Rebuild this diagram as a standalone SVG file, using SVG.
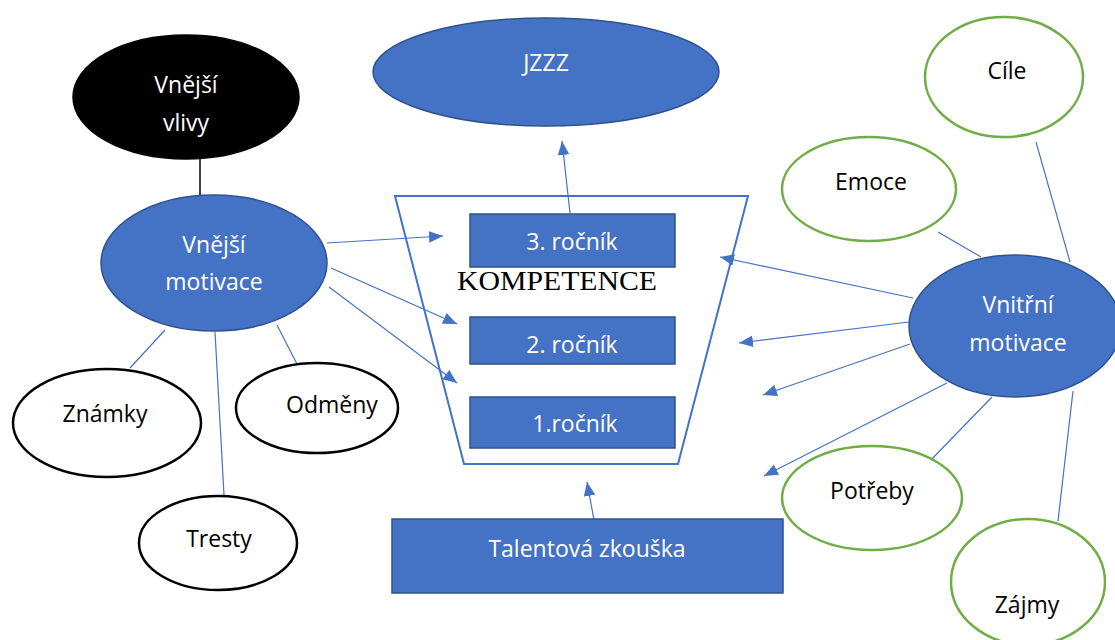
<svg xmlns="http://www.w3.org/2000/svg" width="1115" height="640" viewBox="0 0 1115 640">
<style>
.blue{fill:#4472C4;stroke:#2F528F;stroke-width:1.5}
.black{fill:#000;stroke:#000;stroke-width:1.5}
.wb{fill:#fff;stroke:#000;stroke-width:2.5}
.wg{fill:#fff;stroke:#70AD47;stroke-width:2.5}
.box{fill:#4472C4;stroke:#2F528F;stroke-width:1.5}
.t{font-family:"Open Sans","Liberation Sans",sans-serif;font-size:23px;text-anchor:middle;dominant-baseline:central}
.tw{fill:#fff}
.tk{fill:#000}
.ln{stroke:#4472C4;stroke-width:1.2;fill:none}
.ar{stroke:#4472C4;stroke-width:1.2;fill:none;marker-end:url(#ah)}
</style>
<defs>
<marker id="ah" viewBox="0 0 12 10" refX="12" refY="5" markerWidth="14" markerHeight="12" markerUnits="userSpaceOnUse" orient="auto">
<path d="M0,0 L12,5 L0,10 Z" fill="#4472C4"/>
</marker>
</defs>
<rect width="1115" height="640" fill="#fff"/>
<g id="connectors">
<line x1="200" y1="159" x2="200" y2="196" stroke="#000" stroke-width="1.5"/>
<line class="ln" x1="165" y1="330" x2="130" y2="368"/>
<line class="ln" x1="215" y1="332" x2="224" y2="495"/>
<line class="ln" x1="277" y1="325" x2="298" y2="366"/>
<line class="ar" x1="327" y1="243" x2="443" y2="236"/>
<line class="ar" x1="331" y1="268" x2="457" y2="324"/>
<line class="ar" x1="329" y1="287" x2="457" y2="383"/>
<line class="ar" x1="570" y1="213" x2="562" y2="141"/>
<line class="ar" x1="594" y1="520" x2="587" y2="482"/>
<line class="ar" x1="913" y1="298" x2="720" y2="257"/>
<line class="ar" x1="909" y1="322" x2="739" y2="343"/>
<line class="ar" x1="910" y1="344" x2="763" y2="395"/>
<line class="ar" x1="947" y1="383" x2="764" y2="476"/>
<line class="ln" x1="992" y1="397" x2="927" y2="464"/>
<line class="ln" x1="1073" y1="391" x2="1058" y2="521"/>
<line class="ln" x1="938" y1="232" x2="981" y2="257"/>
<line class="ln" x1="1036" y1="142" x2="1070" y2="262"/>
</g>
<g id="kompetence">
<polygon points="395,196 748,196 678,464 464,464" fill="none" stroke="#4472C4" stroke-width="2"/>
<text x="557" y="290" font-family="Liberation Serif,serif" font-size="28" fill="#000" text-anchor="middle" textLength="200" lengthAdjust="spacingAndGlyphs">KOMPETENCE</text>
</g>
<g id="rocnik3"><rect class="box" x="470" y="214" width="205" height="53"/><text class="t tw" x="572" y="241">3. ročník</text></g>
<g id="rocnik2"><rect class="box" x="470" y="317" width="205" height="47"/><text class="t tw" x="572" y="344">2. ročník</text></g>
<g id="rocnik1"><rect class="box" x="470" y="397" width="205" height="51"/><text class="t tw" x="575" y="423">1.ročník</text></g>
<g id="talent"><rect class="box" x="392" y="519" width="391" height="74"/><text class="t tw" x="587" y="548">Talentová zkouška</text></g>
<g id="jzzz"><ellipse class="blue" cx="546" cy="72" rx="173" ry="54"/><text class="t tw" x="546" y="62">JZZZ</text></g>
<g id="vnejsi-vlivy"><ellipse class="black" cx="186" cy="97" rx="113" ry="62"/><text class="t tw" x="186" y="84">Vnější</text><text class="t tw" x="186" y="122">vlivy</text></g>
<g id="vnejsi-motivace"><ellipse class="blue" cx="214" cy="263" rx="113" ry="68"/><text class="t tw" x="214" y="244">Vnější</text><text class="t tw" x="214" y="281">motivace</text></g>
<g id="znamky"><ellipse class="wb" cx="107" cy="423" rx="94" ry="54"/><text class="t tk" x="105" y="413">Známky</text></g>
<g id="odmeny"><ellipse class="wb" cx="317" cy="408" rx="81" ry="45"/><text class="t tk" x="332" y="404">Odměny</text></g>
<g id="tresty"><ellipse class="wb" cx="218" cy="543" rx="79" ry="47"/><text class="t tk" x="219" y="538">Tresty</text></g>
<g id="vnitrni-motivace"><ellipse class="blue" cx="1015" cy="326" rx="106" ry="71"/><text class="t tw" x="1018" y="304">Vnitřní</text><text class="t tw" x="1018" y="342">motivace</text></g>
<g id="cile"><ellipse class="wg" cx="1004" cy="77" rx="79" ry="60"/><text class="t tk" x="1007" y="70">Cíle</text></g>
<g id="emoce"><ellipse class="wg" cx="869" cy="189" rx="87" ry="52"/><text class="t tk" x="871" y="181">Emoce</text></g>
<g id="potreby"><ellipse class="wg" cx="872" cy="498" rx="90" ry="52"/><text class="t tk" x="872" y="490">Potřeby</text></g>
<g id="zajmy"><ellipse class="wg" cx="1028" cy="582" rx="77" ry="63"/><text class="t tk" x="1027" y="604">Zájmy</text></g>
</svg>
